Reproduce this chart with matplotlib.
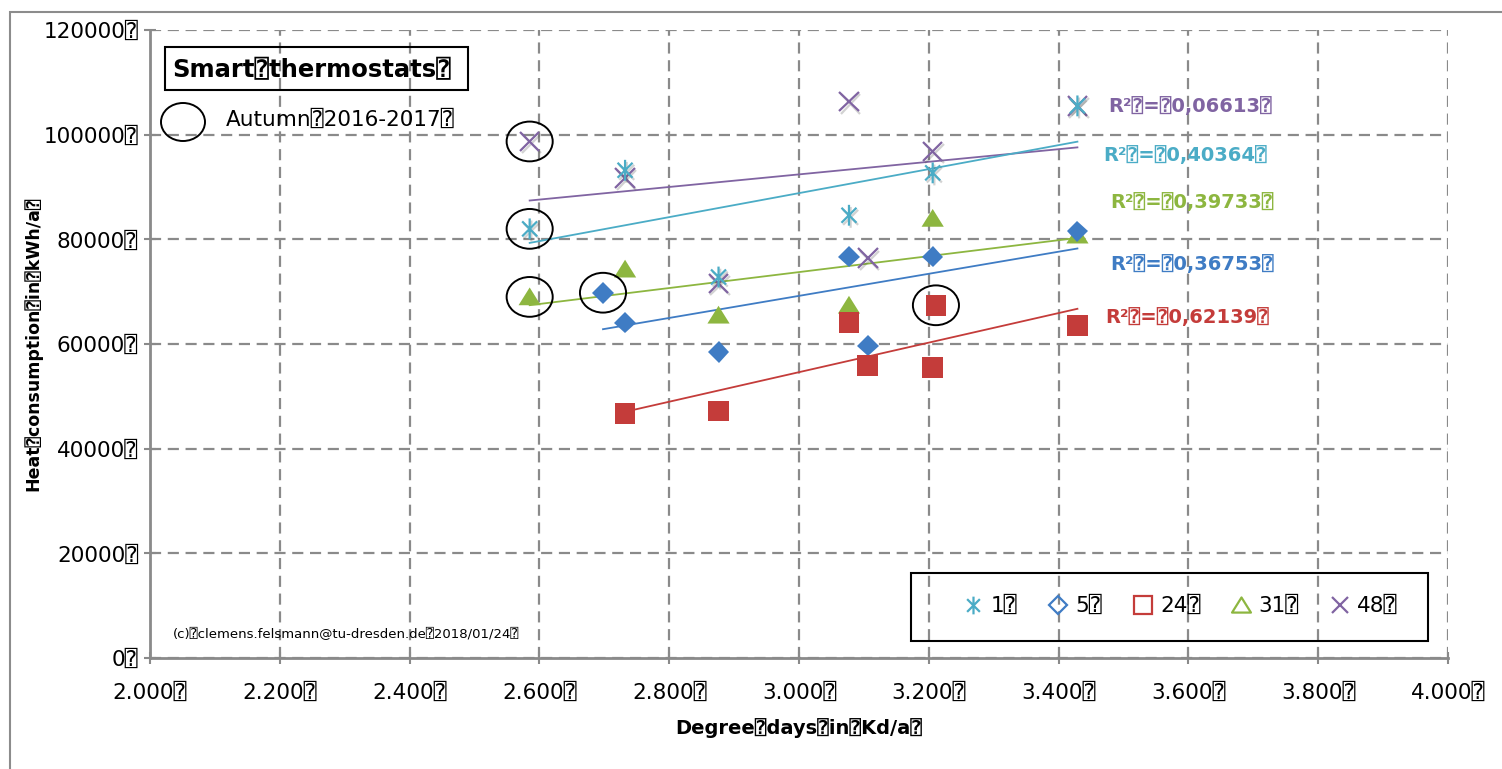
import matplotlib

matplotlib.use("Agg")
import matplotlib.pyplot as plt
import numpy as np
from matplotlib.lines import Line2D
from matplotlib.patches import Ellipse, Rectangle
from matplotlib.path import Path
import matplotlib.patheffects as pe

plt.rcParams["font.family"] = ["DejaVu Sans", "DejaVu Sans Mono"]

Q = "\u2370"  # placeholder glyph that shows up in place of the spaces

# degree days (Kd/a) and heat consumption (kWh/a) per building
s1_x = [2585, 2732, 2876, 3077, 3206, 3429]
s1_y = [82000, 93200, 72800, 84600, 92700, 105500]
s5_x = [2698, 2732, 2876, 3077, 3106, 3206, 3429]
s5_y = [69800, 64100, 58500, 76700, 59700, 76700, 81500]
s24_x = [2732, 2876, 3077, 3106, 3211, 3206, 3429]
s24_y = [46700, 47200, 64100, 55900, 67400, 55500, 63500]
s31_x = [2585, 2732, 2876, 3077, 3206, 3429]
s31_y = [69000, 74300, 65500, 67400, 84000, 80800]
s48_x = [2585, 2732, 2876, 3077, 3106, 3206, 3429]
s48_y = [98700, 91700, 71600, 106300, 76400, 96800, 105500]

series_names = ["1", "5", "24", "31", "48"]
r2_labels = ["0,06613", "0,40364", "0,39733", "0,36753", "0,62139"]
r2_order = ["48", "1", "31", "5", "24"]
r2_x = [3476, 3469, 3480, 3480, 3472]
r2_y = [105300, 96100, 87100, 75100, 65000]

# autumn 2016-2017 points (series, index)
autumn = [("48", 0), ("1", 0), ("31", 0), ("5", 0), ("24", 4)]

x_ticks = [2000, 2200, 2400, 2600, 2800, 3000, 3200, 3400, 3600, 3800, 4000]
y_ticks = [0, 20000, 40000, 60000, 80000, 100000, 120000]

colors = {
    "1": "#4bacc6",
    "5": "#3f7cc4",
    "24": "#c43c3a",
    "31": "#8db640",
    "48": "#8064a2",
}

# asterisk: vertical stroke plus an X
star = Path(
    [(0, -1), (0, 1), (-0.72, -0.72), (0.72, 0.72), (-0.72, 0.72), (0.72, -0.72)],
    [Path.MOVETO, Path.LINETO, Path.MOVETO, Path.LINETO, Path.MOVETO, Path.LINETO],
)
# triangle a little wider than tall
tri = Path([(-1, -0.75), (1, -0.75), (0, 0.85), (-1, -0.75)],
           [Path.MOVETO, Path.LINETO, Path.LINETO, Path.CLOSEPOLY])

data = {
    "1": (s1_x, s1_y),
    "5": (s5_x, s5_y),
    "24": (s24_x, s24_y),
    "31": (s31_x, s31_y),
    "48": (s48_x, s48_y),
}
markers = {
    "1": dict(marker=star, ms=15, mew=1.6, mfc="none"),
    "5": dict(marker="D", ms=11, mew=0),
    "24": dict(marker="s", ms=15, mew=0),
    "31": dict(marker=tri, ms=16, mew=0),
    "48": dict(marker="x", ms=14, mew=1.6),
}

fig = plt.figure(figsize=(15.02, 7.69), dpi=100)
W, H = 1502, 769
ax = fig.add_axes([150 / W, 1 - 658 / H, 1298 / W, 628 / H])

shadow = [pe.SimpleLineShadow(offset=(1.2, -1.5), alpha=0.25, shadow_color="0.3"), pe.Normal()]

for name in ["48", "1", "31", "5", "24"]:
    xs, ys = data[name]
    c = colors[name]
    ax.plot(xs, ys, ls="none", color=c, mec=c, zorder=4,
            path_effects=shadow, **markers[name])
    # linear trend over the measured range
    k, d = np.polyfit(xs, ys, 1)
    xl = np.array([min(xs), max(xs)])
    ax.plot(xl, k * xl + d, color=c, lw=1.3, zorder=3)

for name, x, y, val in zip(r2_order, r2_x, r2_y, r2_labels):
    ax.text(x, y, f"R\u00b2{Q}={Q}{val}{Q}", color=colors[name], fontsize=14,
            fontweight="bold", ha="left", va="center", zorder=5)

for name, i in autumn:
    xs, ys = data[name]
    ax.add_patch(Ellipse((xs[i], ys[i]), 71, 7600, fill=False, ec="black", lw=1.4, zorder=6))

ax.set_xlim(2000, 4000)
ax.set_ylim(0, 120000)
ax.set_xticks(x_ticks)
ax.set_yticks(y_ticks)
ax.set_xticklabels([f"{v // 1000}.{v % 1000:03d}{Q}" for v in x_ticks])
ax.set_yticklabels([f"{v}{Q}" for v in y_ticks])
ax.tick_params(axis="both", direction="inout", length=9, width=1.5, color="#8a8a8a",
               labelsize=15.5)
ax.tick_params(axis="x", pad=13)
ax.tick_params(axis="y", pad=4)

ax.grid(True, ls=(0, (5, 3)), color="#8a8a8a", lw=1.6)
ax.set_axisbelow(True)
for side in ["top", "right"]:
    ax.spines[side].set_visible(False)
for side in ["left", "bottom"]:
    ax.spines[side].set_color("#8a8a8a")
    ax.spines[side].set_linewidth(2)
ax.patch.set_alpha(0)

ax.set_xlabel(f"Degree{Q}days{Q}in{Q}Kd/a{Q}", fontsize=14, fontweight="bold")
ax.xaxis.set_label_coords(0.5, -70 / 628)
ax.set_ylabel(f"Heat{Q}consumption{Q}in{Q}kWh/a{Q}", fontsize=12.5, fontweight="bold")
ax.yaxis.set_label_coords(-117 / 1298, 0.5)
ax.yaxis.label.set_va("center")
ax.xaxis.label.set_va("center")

# title box and the circle key
fig.add_artist(Rectangle((165 / W, 1 - 90 / H), 303 / W, 43 / H, transform=fig.transFigure,
                         fill=False, ec="black", lw=1.5))
fig.text(172 / W, 1 - 70 / H, f"Smart{Q}thermostats{Q}", fontsize=17.5, fontweight="bold",
         va="center", ha="left")
fig.add_artist(Ellipse((183 / W, 1 - 122 / H), 44 / W, 38 / H, transform=fig.transFigure,
                       fill=False, ec="black", lw=1.4))
fig.text(226 / W, 1 - 120 / H, f"Autumn{Q}2016-2017{Q}", fontsize=15.5, va="center", ha="left")

fig.text(173 / W, 1 - 634 / H, f"(c){Q}clemens.felsmann@tu-dresden.de{Q}2018/01/24{Q}",
         fontsize=9.5, va="center", ha="left")

# series key
fig.add_artist(Rectangle((911 / W, 1 - 641 / H), 517 / W, 68 / H, transform=fig.transFigure,
                         fill=False, ec="black", lw=1.5, zorder=5))
handles = []
for name in series_names:
    m = dict(markers[name])
    m["mfc"] = "none"
    m["mew"] = 1.6
    m["ms"] = m["ms"] * 0.85
    handles.append(Line2D([], [], ls="none", color=colors[name], mec=colors[name], **m))
fig.legend(handles, [f"{n}{Q}" for n in series_names], loc="center",
           bbox_to_anchor=(1180 / W, 1 - 606 / H), ncol=5, frameon=False, fontsize=15.5,
           handlelength=1.0, handletextpad=0.3, columnspacing=1.4)

# outer chart frame
fig.add_artist(Rectangle((10 / W, -0.05), 1.2, 1 - 12 / H + 0.05, transform=fig.transFigure,
                         fill=False, ec="#8c8c8c", lw=1.5))

fig.savefig("out.png", dpi=100)
